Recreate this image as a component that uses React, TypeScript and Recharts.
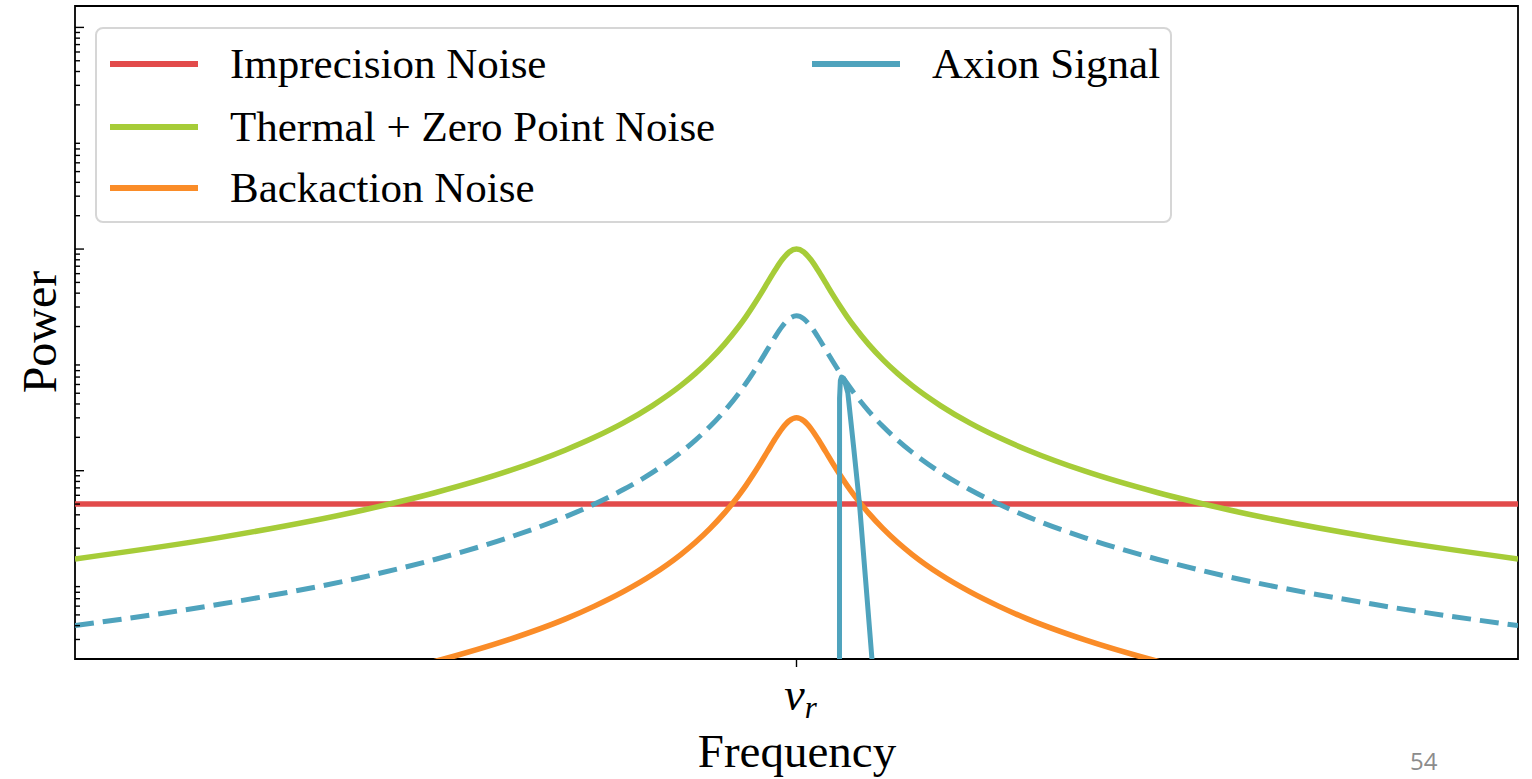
import React from "react";
import {
  LineChart,
  Line,
  XAxis,
  YAxis,
  Legend,
  ReferenceArea,
} from "recharts";

// detuning from the resonance, in linewidths (ν_r at 0)
const detuning = [
  -25, -20, -15, -12.5, -10, -8, -7, -6, -5, -4, -3.5, -3, -2.5, -2, -1.75, -1.5,
  -1.25, -1, -0.75, -0.5, -0.25, 0, 0.25, 0.5, 0.75, 1, 1.25, 1.5, 1.75, 2, 2.5, 3,
  3.5, 4, 5, 6, 7, 8, 10, 12.5, 15, 20, 25,
];

const thermalNoise = [
  0.16, 0.249, 0.442, 0.636, 0.99, 1.54, 2.0, 2.7, 3.85, 5.88, 7.55, 10, 13.8, 20,
  24.6, 30.8, 39.0, 50, 64, 80, 94.1, 100, 94.1, 80, 64, 50, 39.0, 30.8, 24.6, 20,
  13.8, 10, 7.55, 5.88, 3.85, 2.7, 2.0, 1.54, 0.99, 0.636, 0.442, 0.249, 0.16,
];

const backactionNoise = [
  0.0048, 0.0075, 0.0133, 0.0191, 0.0297, 0.046, 0.06, 0.081, 0.115, 0.176, 0.226,
  0.3, 0.414, 0.6, 0.738, 0.923, 1.17, 1.5, 1.92, 2.4, 2.82, 3, 2.82, 2.4, 1.92, 1.5,
  1.17, 0.923, 0.738, 0.6, 0.414, 0.3, 0.226, 0.176, 0.115, 0.081, 0.06, 0.046,
  0.0297, 0.0191, 0.0133, 0.0075, 0.0048,
];

// dashed envelope of the axion response
const axionEnvelope = [
  0.04, 0.0623, 0.11, 0.159, 0.248, 0.385, 0.5, 0.676, 0.96, 1.47, 1.89, 2.5, 3.45,
  5.0, 6.15, 7.69, 9.76, 12.5, 16, 20, 23.5, 25, 23.5, 20, 16, 12.5, 9.76, 7.69,
  6.15, 5.0, 3.45, 2.5, 1.89, 1.47, 0.96, 0.676, 0.5, 0.385, 0.248, 0.159, 0.11,
  0.0623, 0.04,
];

const imprecisionFreq = [-25, 25];
const imprecisionNoise = [0.5, 0.5];

const axionFreq = [1.488, 1.492, 1.52, 1.56, 1.61, 1.66, 1.78, 1.98, 2.18, 2.39, 2.61, 2.81, 3.0];
const axionSignal = [0.0005, 4.5, 6.5, 7.0, 6.9, 6.58, 5.01, 1.63, 0.51, 0.107, 0.0207, 0.0046, 0.0008];

const freqTicks = [0];
const majorPowerTicks = [1, 100, 10000];
const minorPowerTicks = [
  0.02, 0.03, 0.04, 0.05, 0.06, 0.07, 0.08, 0.09,
  0.2, 0.3, 0.4, 0.5, 0.6, 0.7, 0.8, 0.9,
  2, 3, 4, 5, 6, 7, 8, 9,
  20, 30, 40, 50, 60, 70, 80, 90,
  200, 300, 400, 500, 600, 700, 800, 900,
  2000, 3000, 4000, 5000, 6000, 7000, 8000, 9000,
];

const legendNames = ["Imprecision Noise", "Thermal + Zero Point Noise", "Backaction Noise", "Axion Signal"];

const RED = "#E24B4B";
const GREEN = "#A6CC38";
const ORANGE = "#FA8C28";
const BLUE = "#4FA3BD";
const legendColors = [RED, GREEN, ORANGE, BLUE];

const SERIF = '"Liberation Serif", "Times New Roman", serif';

const zip = (xs: number[], ys: number[]) => xs.map((f, i) => ({ f, p: ys[i] }));

const imprecisionData = zip(imprecisionFreq, imprecisionNoise);
const thermalData = zip(detuning, thermalNoise);
const envelopeData = zip(detuning, axionEnvelope);
const backactionData = zip(detuning, backactionNoise);
const axionData = zip(axionFreq, axionSignal);

// inward ticks on the log axis, long for the labelled decades
const PowerTick = ({ x, y, payload }: any) => {
  const len = majorPowerTicks.includes(payload.value) ? 9 : 5;
  return <line x1={x} x2={x + len} y1={y} y2={y} stroke="#000" strokeWidth={1.4} />;
};

const FreqTick = ({ x, y }: any) => (
  <g>
    <line x1={x} x2={x} y1={y} y2={y + 8} stroke="#000" strokeWidth={1.4} />
    <text x={x + 4} y={y + 51} textAnchor="middle" fontFamily={SERIF} fontStyle="italic" fontSize={46} fill="#000">
      ν<tspan fontSize={31} dy={8}>r</tspan>
    </text>
  </g>
);

const FreqLabel = () => (
  <text x={797} y={767} textAnchor="middle" fontFamily={SERIF} fontSize={47} fill="#000">
    Frequency
  </text>
);

const PowerLabel = () => (
  <text x={56} y={332} textAnchor="middle" fontFamily={SERIF} fontSize={48} fill="#000" transform="rotate(-90 56 332)">
    Power
  </text>
);

// matplotlib-style legend: two columns, framed box
const rowCenters = [35, 98, 159];
const LegendBox = () => (
  <div
    style={{
      position: "relative",
      width: 1077,
      height: 196,
      boxSizing: "border-box",
      border: "2px solid #d6d6d6",
      borderRadius: 8,
      background: "rgba(255,255,255,0.85)",
      fontFamily: SERIF,
      fontSize: 43,
      lineHeight: "42px",
      color: "#000",
    }}
  >
    {legendNames.map((name, i) => {
      const col = i < 3 ? 0 : 1;
      const row = i < 3 ? i : 0;
      const left = col === 0 ? 13 : 715;
      const cy = rowCenters[row];
      return (
        <React.Fragment key={name}>
          <div style={{ position: "absolute", left, top: cy - 3, width: 88, height: 6, background: legendColors[i] }} />
          <div style={{ position: "absolute", left: left + 120, top: cy - 21, whiteSpace: "nowrap" }}>{name}</div>
        </React.Fragment>
      );
    })}
  </div>
);

export default function App() {
  return (
    <div style={{ position: "absolute", left: 0, top: 0, width: 1532, height: 779, background: "#fff" }}>
      <LineChart width={1532} height={779} margin={{ top: 6, right: 14, bottom: 80, left: 35 }}>
        <XAxis
          type="number"
          dataKey="f"
          domain={[-25, 25]}
          allowDataOverflow
          ticks={freqTicks}
          interval={0}
          height={40}
          axisLine={false}
          tickLine={false}
          tickSize={0}
          tickMargin={0}
          tick={<FreqTick />}
          label={<FreqLabel />}
        />
        <YAxis
          type="number"
          scale="log"
          domain={[0.02, 15600]}
          allowDataOverflow
          ticks={[...minorPowerTicks, ...majorPowerTicks]}
          interval={0}
          width={40}
          axisLine={false}
          tickLine={false}
          tickSize={0}
          tickMargin={0}
          tick={<PowerTick />}
          label={<PowerLabel />}
        />
        <Line data={imprecisionData} dataKey="p" type="linear" stroke={RED} strokeWidth={5.5} dot={false} isAnimationActive={false} />
        <Line data={thermalData} dataKey="p" type="monotone" stroke={GREEN} strokeWidth={5.5} dot={false} isAnimationActive={false} />
        <Line
          data={envelopeData}
          dataKey="p"
          type="monotone"
          stroke={BLUE}
          strokeWidth={5}
          strokeDasharray="19 9"
          dot={false}
          isAnimationActive={false}
        />
        <Line data={backactionData} dataKey="p" type="monotone" stroke={ORANGE} strokeWidth={5.5} dot={false} isAnimationActive={false} />
        <Line
          data={axionData}
          dataKey="p"
          type="linear"
          stroke={BLUE}
          strokeWidth={5}
          strokeLinejoin="round"
          dot={false}
          isAnimationActive={false}
        />
        <ReferenceArea x1={-25} x2={25} y1={0.02} y2={15600} fill="none" stroke="#000" strokeWidth={1.8} />
        <Legend
          layout="horizontal"
          verticalAlign="middle"
          align="center"
          content={<LegendBox />}
          wrapperStyle={{ left: 95, top: 27, width: 1077, height: 196 }}
        />
      </LineChart>
      <div
        style={{
          position: "absolute",
          left: 1410,
          top: 744,
          fontFamily: '"Open Sans", sans-serif',
          fontSize: 24,
          color: "#8c8c8c",
        }}
      >
        54
      </div>
    </div>
  );
}
